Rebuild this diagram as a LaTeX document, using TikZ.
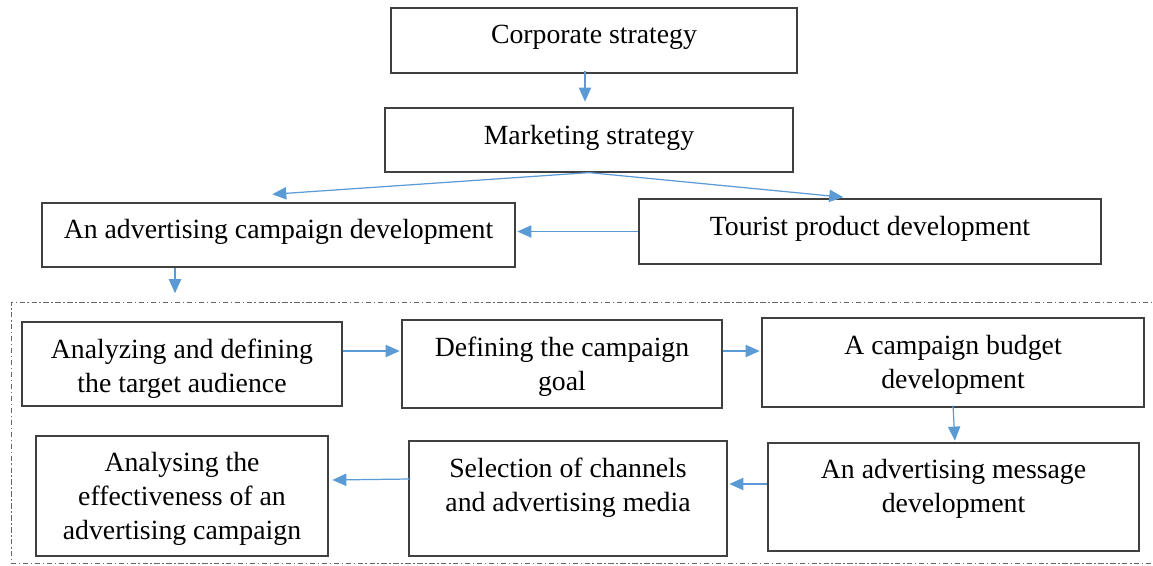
\documentclass[tikz,border=0pt]{standalone}
\usepackage{fontspec}
\setmainfont{Liberation Serif}
\usetikzlibrary{arrows.meta,calc}

\definecolor{flowblue}{HTML}{5B9BD5}
\definecolor{edgegray}{HTML}{404040}

\tikzset{
  box/.style={draw=edgegray,line width=0.7pt,rectangle,inner sep=0pt},
  txt/.style={align=center,inner sep=0pt,font=\fontsize{15.8}{19.3}\selectfont},
  flow/.style={draw=flowblue,line width=0.7pt,-{Triangle[length=8pt,width=7pt]},shorten >=1pt},
  frame/.style={draw=edgegray!80,line width=0.5pt,dash pattern=on 3pt off 1.5pt on 0.8pt off 1.5pt,inner sep=0pt}
}

\begin{document}
\begin{tikzpicture}[x=0.02cm,y=-0.02cm]
\useasboundingbox (0,0) rectangle (1153,565);

% strategy levels
\node[box,minimum width=8.12cm,minimum height=1.30cm] (corp) at (594,40.5) {};
\node[txt] (corp-t) at (594,37) {Corporate strategy};
\node[box,minimum width=8.16cm,minimum height=1.28cm] (mkt) at (589,140) {};
\node[txt] (mkt-t) at (589,138) {Marketing strategy};
\node[box,minimum width=9.46cm,minimum height=1.28cm] (adv) at (278.5,235) {};
\node[txt] (adv-t) at (278.5,232) {An advertising campaign development};
\node[box,minimum width=9.24cm,minimum height=1.30cm] (tour) at (870,231.5) {};
\node[txt] (tour-t) at (870,229) {Tourist product development};

% campaign stages
\node[frame,minimum width=22.98cm,minimum height=5.22cm] (stage) at (585.5,432.5) {};
\node[box,minimum width=6.40cm,minimum height=1.68cm] (aud) at (182,364) {};
\node[txt] (aud-t) at (182,369) {Analyzing and defining\\the target audience};
\node[box,minimum width=6.40cm,minimum height=1.76cm] (goal) at (562,364) {};
\node[txt] (goal-t) at (562,367) {Defining the campaign\\goal};
\node[box,minimum width=7.64cm,minimum height=1.78cm] (budget) at (953,362.5) {};
\node[txt] (budget-t) at (953,365) {A campaign budget\\development};
\node[box,minimum width=7.42cm,minimum height=2.16cm] (msg) at (953.5,497) {};
\node[txt] (msg-t) at (953.5,489) {An advertising message\\development};
\node[box,minimum width=6.36cm,minimum height=2.30cm] (media) at (568,498.5) {};
\node[txt] (media-t) at (568,488) {Selection of channels\\and advertising media};
\node[box,minimum width=5.84cm,minimum height=2.40cm] (eff) at (182,496) {};
\node[txt] (eff-t) at (182,499) {Analysing the\\effectiveness of an\\advertising campaign};

\coordinate (drop) at (175,295);

\draw[flow] ($(corp.south)+(-9,-3)$) -- ($(mkt.north)+(-4,-4)$);
\draw[flow] (mkt.south) -- ($(adv.north)+(-8,-8)$);
\draw[flow] (mkt.south) -- ($(tour.north)+(-25,-1)$);
\draw[flow] (tour.west) -- (tour.west -| adv.east);
\draw[flow] (adv.south -| drop) -- (drop);
\draw[flow] ($(aud.east)+(0,-13)$) -- ($(goal.west)+(0,-13)$);
\draw[flow] ($(goal.east)+(0,-13)$) -- ($(budget.west)+(0,-11.5)$);
\draw[flow] ($(budget.south)+(0,-2)$) -- ($(msg.north)+(1.5,0)$);
\draw[flow] ($(msg.west)+(0,-13)$) -- ($(media.east)+(0,-14.5)$);
\draw[flow] ($(media.west)+(2,-19.5)$) -- ($(eff.east)+(2,-16)$);
\end{tikzpicture}
\end{document}
